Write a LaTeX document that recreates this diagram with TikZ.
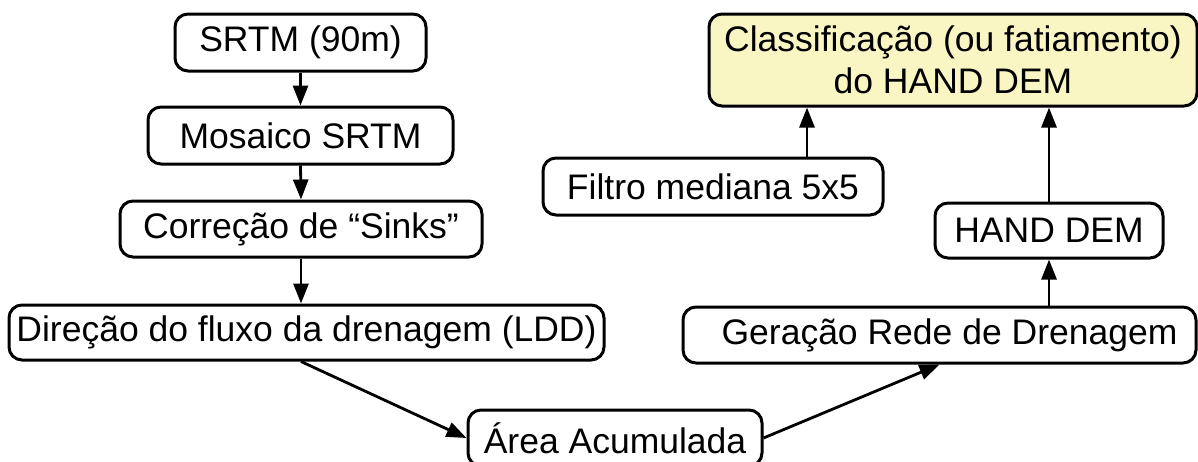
\documentclass[tikz,border=0pt]{standalone}
\usepackage{fontspec}
\setmainfont{Liberation Sans}
\usetikzlibrary{arrows.meta,calc}
\begin{document}
\begin{tikzpicture}[x=1pt,y=-1pt,
  box/.style={draw=black,line width=3pt,rounded corners=13pt,inner sep=0pt,align=center,
    font=\fontsize{35.5}{42}\selectfont},
  arr/.style={line width=2.8pt,-{Triangle[length=20pt,width=15pt]}}]
\useasboundingbox[fill=white] (0,0) rectangle (1198,461);
\node[box,minimum width=251pt,minimum height=57pt] (srtm) at (300.5,42.5) {SRTM (90m)};
\node[box,minimum width=305pt,minimum height=57pt] (mos) at (300.5,135.5) {Mosaico SRTM};
\node[box,minimum width=362pt,minimum height=56pt] (sinks) at (301,229) {Correção de “Sinks”};
\node[box,minimum width=595pt,minimum height=55pt] (ldd) at (306.5,332.5) {Direção do fluxo da drenagem (LDD)};
\node[box,minimum width=294pt,minimum height=56pt] (area) at (615,438) {Área Acumulada};
\node[box,minimum width=513pt,minimum height=56pt] (gera) at (939.5,335) {\hspace*{20pt}Geração Rede de Drenagem};
\node[box,minimum width=228pt,minimum height=55pt] (hand) at (1049,230.5) {HAND DEM};
\node[box,minimum width=340pt,minimum height=57pt] (filt) at (713,186.5) {Filtro mediana 5x5};
\node[box,fill={rgb,255:red,250;green,246;blue,196},minimum width=488pt,minimum height=92pt] (cls) at (953,60) {Classificação (ou fatiamento)\\do HAND DEM};
\draw[arr] (srtm.south) -- (mos.north);
\draw[arr] (mos.south) -- (sinks.north);
\draw[arr] (sinks.south) -- (sinks.south |- ldd.north);
\draw[arr] (sinks.south |- ldd.south) -- (area.west);
\draw[arr] (area.east) -- (gera.south);
\draw[arr] (hand.south |- gera.north) -- (hand.south);
\draw[arr] (hand.north) -- (hand.north |- cls.south);
\coordinate (fa) at ([xshift=94pt]filt.north);
\draw[arr] (fa) -- (fa |- cls.south);
\end{tikzpicture}
\end{document}
